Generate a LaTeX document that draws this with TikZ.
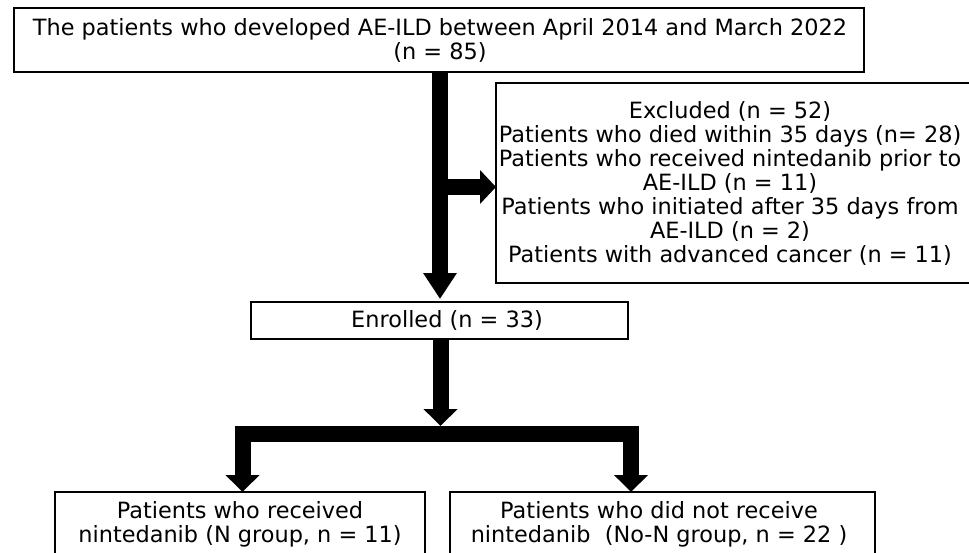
\documentclass[tikz,border=0pt]{standalone}
\usepackage{fontspec}
\setmainfont{DejaVu Sans}
\usetikzlibrary{arrows.meta}
\begin{document}
\begin{tikzpicture}[x=1pt,y=-1pt,
  box/.style={draw=black,line width=1.5pt,rectangle,inner sep=0pt,outer sep=0pt},
  txt/.style={align=center,inner sep=0pt,font=\fontsize{22.4}{24}\selectfont},
  blk/.style={line width=16pt,line join=miter,line cap=butt,-{Triangle[width=33pt,length=17pt]}},
  blklong/.style={line width=16pt,line join=miter,line cap=butt,-{Triangle[width=32pt,length=26pt]}},
  blkboth/.style={line width=16pt,line join=miter,line cap=butt,{Triangle[width=33pt,length=17pt]}-{Triangle[width=33pt,length=17pt]}}]
\useasboundingbox (0,0) rectangle (969,552);
\fill[white] (0,0) rectangle (969,552);
% boxes
\node[box,minimum width=850pt,minimum height=64pt] (top) at (439,40) {};
\node[txt] (toptext) at (440,40) {The patients who developed AE-ILD between April 2014 and March 2022\\(n = 85)};
\node[box,minimum width=479pt,minimum height=200pt] (excl) at (735.5,183) {};
\node[txt] (excltext) at (730,183) {Excluded (n = 52)\\Patients who died within 35 days (n= 28)\\Patients who received nintedanib prior to\\AE-ILD (n = 11)\\Patients who initiated after 35 days from\\AE-ILD (n = 2)\\Patients with advanced cancer (n = 11)};
\node[box,minimum width=377pt,minimum height=37pt] (enr) at (439.5,320.5) {};
\node[txt] (enrtext) at (447,320) {Enrolled (n = 33)};
\node[box,minimum width=370pt,minimum height=108pt] (nl) at (240,546) {};
\node[txt] (nltext) at (240,524) {Patients who received\\nintedanib (N group, n = 11)};
\node[box,minimum width=425pt,minimum height=108pt] (nr) at (662.5,546) {};
\node[txt] (nrtext) at (659,524) {Patients who did not receive\\nintedanib~~(No-N group, n = 22 )};
% connectors
\coordinate (c1) at (440,72);
\coordinate (br) at (440,187);
\coordinate (c2) at (440.5,339);
\coordinate (c3) at (440.5,426);
\coordinate (s1) at (242.5,434);
\coordinate (s2) at (631,434);
\draw[blklong] (c1) -- ([yshift=3pt]c1 |- enr.north);
\draw[line width=16pt,-{Triangle[width=33pt,length=16pt]}] (br) -- (br -| excl.west);
\draw[blk] (c2) -- (c3);
\draw[blkboth] (s1 |- nl.north) -- (s1) -- (s2) -- (s2 |- nr.north);
\end{tikzpicture}
\end{document}
